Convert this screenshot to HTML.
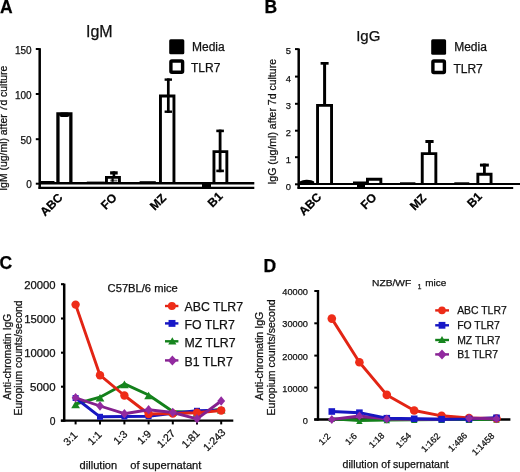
<!DOCTYPE html>
<html><head><meta charset="utf-8"><style>
html,body{margin:0;padding:0;background:#fff;width:520px;height:472px;overflow:hidden}
svg{display:block;will-change:transform}
text{font-family:"Liberation Sans", sans-serif}
</style></head><body>
<svg width="520" height="472" viewBox="0 0 520 472">
<rect x="0" y="0" width="520" height="472" fill="#fff"/>
<text x="0" y="12.7" font-size="17.5" text-anchor="start" fill="#000" stroke="#000" stroke-width="0.25" font-weight="bold" >A</text>
<text x="86.0" y="36.5" font-size="16" text-anchor="start" fill="#111" stroke="#111" stroke-width="0.25" >IgM</text>
<line x1="39.7" y1="48.2" x2="39.7" y2="188.8" stroke="#000" stroke-width="2.5" stroke-linecap="butt"/>
<line x1="35.8" y1="49" x2="39.7" y2="49" stroke="#000" stroke-width="2.0" stroke-linecap="butt"/>
<line x1="35.8" y1="94" x2="39.7" y2="94" stroke="#000" stroke-width="2.0" stroke-linecap="butt"/>
<line x1="35.8" y1="139.2" x2="39.7" y2="139.2" stroke="#000" stroke-width="2.0" stroke-linecap="butt"/>
<line x1="35.8" y1="183.7" x2="39.7" y2="183.7" stroke="#000" stroke-width="2.0" stroke-linecap="butt"/>
<text x="31.7" y="53.7" font-size="10" text-anchor="end" fill="#111" stroke="#111" stroke-width="0.25" >150</text>
<text x="31.7" y="98.7" font-size="10" text-anchor="end" fill="#111" stroke="#111" stroke-width="0.25" >100</text>
<text x="31.7" y="143.9" font-size="10" text-anchor="end" fill="#111" stroke="#111" stroke-width="0.25" >50</text>
<text x="31.7" y="188.4" font-size="10" text-anchor="end" fill="#111" stroke="#111" stroke-width="0.25" >0</text>
<text x="6.9" y="190.8" font-size="10.4" text-anchor="start" fill="#111" stroke="#111" stroke-width="0.25" textLength="125.2" lengthAdjust="spacingAndGlyphs" transform="rotate(-90 6.9 190.8)" >IgM (ug/ml) after 7d culture</text>
<rect x="41" y="181.0" width="13.5" height="2.5" fill="#000" stroke="none" stroke-width="0" rx="0"/>
<rect x="86.8" y="181.6" width="18" height="2" fill="#000" stroke="none" stroke-width="0" rx="0"/>
<rect x="139.6" y="181.2" width="16.2" height="1.8" fill="#000" stroke="none" stroke-width="0" rx="0"/>
<rect x="202" y="182" width="9" height="5" fill="#000" stroke="none" stroke-width="0" rx="0"/>
<path d="M57.95,183.3 L57.95,113.95 L70.85,113.95 L70.85,183.3" fill="#fff" stroke="#000" stroke-width="3.3" stroke-linejoin="miter"/>
<rect x="59.3" y="112.6" width="10.2" height="4.4" fill="#000" stroke="none" stroke-width="0" rx="2.2"/>
<path d="M106.45,183.3 L106.45,177.35 L119.45,177.35 L119.45,183.3" fill="#fff" stroke="#000" stroke-width="2.9" stroke-linejoin="miter"/>
<line x1="113.9" y1="171.3" x2="113.9" y2="178.0" stroke="#000" stroke-width="2.6" stroke-linecap="butt"/>
<line x1="110.1" y1="172.9" x2="117.7" y2="172.9" stroke="#000" stroke-width="3.2" stroke-linecap="butt"/>
<rect x="110.2" y="179.6" width="7.2" height="2.0" fill="#777" stroke="none" stroke-width="0" rx="0"/>
<line x1="112.6" y1="178.2" x2="112.6" y2="181.8" stroke="#000" stroke-width="2.2" stroke-linecap="butt"/>
<path d="M160.45,183.3 L160.45,96.05 L173.95,96.05 L173.95,183.3" fill="#fff" stroke="#000" stroke-width="2.9" stroke-linejoin="miter"/>
<line x1="168.3" y1="78.4" x2="168.3" y2="112.9" stroke="#000" stroke-width="2.7" stroke-linecap="butt"/>
<line x1="164.6" y1="79.6" x2="172.0" y2="79.6" stroke="#000" stroke-width="2.4" stroke-linecap="butt"/>
<line x1="164.6" y1="111.7" x2="172.0" y2="111.7" stroke="#000" stroke-width="2.4" stroke-linecap="butt"/>
<path d="M213.95,183.3 L213.95,151.65 L226.85,151.65 L226.85,183.3" fill="#fff" stroke="#000" stroke-width="2.9" stroke-linejoin="miter"/>
<line x1="220.1" y1="129.6" x2="220.1" y2="172.2" stroke="#000" stroke-width="2.8" stroke-linecap="butt"/>
<line x1="216.3" y1="130.9" x2="223.9" y2="130.9" stroke="#000" stroke-width="2.6" stroke-linecap="butt"/>
<line x1="216.3" y1="170.9" x2="223.9" y2="170.9" stroke="#000" stroke-width="2.6" stroke-linecap="butt"/>
<line x1="39" y1="183.25" x2="254.3" y2="183.25" stroke="#000" stroke-width="2.5" stroke-linecap="butt"/>
<line x1="38.5" y1="187.85" x2="254.3" y2="187.85" stroke="#000" stroke-width="2.3" stroke-linecap="butt"/>
<rect x="169.2" y="39.2" width="15.1" height="15.0" fill="#000" stroke="none" stroke-width="0" rx="1.5"/>
<rect x="170.9" y="61.0" width="11.7" height="11.3" fill="#fff" stroke="#000" stroke-width="3.4" rx="1"/>
<text x="192.0" y="51.1" font-size="12" text-anchor="start" fill="#111" stroke="#111" stroke-width="0.25" >Media</text>
<text x="191.0" y="71.6" font-size="12" text-anchor="start" fill="#111" stroke="#111" stroke-width="0.25" >TLR7</text>
<text x="63.4" y="198.3" font-size="12" text-anchor="end" fill="#000" stroke="#000" stroke-width="0.25" font-weight="bold" transform="rotate(-45 63.4 198.3)" >ABC</text>
<text x="117.5" y="198.4" font-size="12" text-anchor="end" fill="#000" stroke="#000" stroke-width="0.25" font-weight="bold" transform="rotate(-45 117.5 198.4)" >FO</text>
<text x="167.0" y="198.8" font-size="12" text-anchor="end" fill="#000" stroke="#000" stroke-width="0.25" font-weight="bold" transform="rotate(-45 167.0 198.8)" >MZ</text>
<text x="223.4" y="197.1" font-size="12" text-anchor="end" fill="#000" stroke="#000" stroke-width="0.25" font-weight="bold" transform="rotate(-45 223.4 197.1)" >B1</text>
<text x="264.5" y="12.7" font-size="17.5" text-anchor="start" fill="#000" stroke="#000" stroke-width="0.25" font-weight="bold" >B</text>
<text x="356.2" y="41.3" font-size="15" text-anchor="start" fill="#111" stroke="#111" stroke-width="0.25" >IgG</text>
<line x1="298.7" y1="48.5" x2="298.7" y2="188.6" stroke="#000" stroke-width="2.5" stroke-linecap="butt"/>
<line x1="295.0" y1="49.1" x2="298.7" y2="49.1" stroke="#000" stroke-width="2.0" stroke-linecap="butt"/>
<text x="291.0" y="54.4" font-size="9.4" text-anchor="end" fill="#111" stroke="#111" stroke-width="0.25" >5</text>
<line x1="295.0" y1="76.6" x2="298.7" y2="76.6" stroke="#000" stroke-width="2.0" stroke-linecap="butt"/>
<text x="291.0" y="81.9" font-size="9.4" text-anchor="end" fill="#111" stroke="#111" stroke-width="0.25" >4</text>
<line x1="295.0" y1="103.8" x2="298.7" y2="103.8" stroke="#000" stroke-width="2.0" stroke-linecap="butt"/>
<text x="291.0" y="109.1" font-size="9.4" text-anchor="end" fill="#111" stroke="#111" stroke-width="0.25" >3</text>
<line x1="295.0" y1="130.7" x2="298.7" y2="130.7" stroke="#000" stroke-width="2.0" stroke-linecap="butt"/>
<text x="291.0" y="136.0" font-size="9.4" text-anchor="end" fill="#111" stroke="#111" stroke-width="0.25" >2</text>
<line x1="295.0" y1="157.2" x2="298.7" y2="157.2" stroke="#000" stroke-width="2.0" stroke-linecap="butt"/>
<text x="291.0" y="162.5" font-size="9.4" text-anchor="end" fill="#111" stroke="#111" stroke-width="0.25" >1</text>
<line x1="295.0" y1="184.3" x2="298.7" y2="184.3" stroke="#000" stroke-width="2.0" stroke-linecap="butt"/>
<text x="291.0" y="189.6" font-size="9.4" text-anchor="end" fill="#111" stroke="#111" stroke-width="0.25" >0</text>
<text x="275.6" y="184.6" font-size="10.4" text-anchor="start" fill="#111" stroke="#111" stroke-width="0.25" textLength="125.6" lengthAdjust="spacingAndGlyphs" transform="rotate(-90 275.6 184.6)" >IgG (ug/ml) after 7d culture</text>
<path d="M299.6,184 L299.6,181.6 Q303,179.6 307,179.8 Q312,180 314.2,181.6 L314.2,184 Z" fill="#000"/>
<rect x="353" y="181.5" width="13" height="2.5" fill="#000" stroke="none" stroke-width="0" rx="0"/>
<rect x="357" y="183" width="8" height="5" fill="#000" stroke="none" stroke-width="0" rx="0"/>
<rect x="400" y="182.3" width="15.4" height="1.5" fill="#000" stroke="none" stroke-width="0" rx="0"/>
<rect x="454.3" y="182.3" width="15" height="1.5" fill="#000" stroke="none" stroke-width="0" rx="0"/>
<path d="M317.55,184.0 L317.55,105.35 L331.55,105.35 L331.55,184.0" fill="#fff" stroke="#000" stroke-width="2.9" stroke-linejoin="miter"/>
<line x1="324.6" y1="62.0" x2="324.6" y2="105" stroke="#000" stroke-width="3.0" stroke-linecap="butt"/>
<line x1="320.6" y1="63.35" x2="328.6" y2="63.35" stroke="#000" stroke-width="2.7" stroke-linecap="butt"/>
<path d="M367.45,184.0 L367.45,179.25 L380.85,179.25 L380.85,184.0" fill="#fff" stroke="#000" stroke-width="2.9" stroke-linejoin="miter"/>
<path d="M422.25,184.0 L422.25,153.65 L435.85,153.65 L435.85,184.0" fill="#fff" stroke="#000" stroke-width="2.9" stroke-linejoin="miter"/>
<line x1="429.5" y1="140.0" x2="429.5" y2="153" stroke="#000" stroke-width="2.8" stroke-linecap="butt"/>
<line x1="425.4" y1="141.5" x2="433.6" y2="141.5" stroke="#000" stroke-width="3.0" stroke-linecap="butt"/>
<path d="M477.85,184.0 L477.85,174.25 L491.05,174.25 L491.05,184.0" fill="#fff" stroke="#000" stroke-width="2.9" stroke-linejoin="miter"/>
<line x1="484.4" y1="163.6" x2="484.4" y2="173.5" stroke="#000" stroke-width="2.8" stroke-linecap="butt"/>
<line x1="479.95" y1="165.1" x2="488.85" y2="165.1" stroke="#000" stroke-width="3.0" stroke-linecap="butt"/>
<line x1="298" y1="184.0" x2="520" y2="184.0" stroke="#000" stroke-width="2.1" stroke-linecap="butt"/>
<line x1="297.5" y1="188.0" x2="513.2" y2="188.0" stroke="#000" stroke-width="2.1" stroke-linecap="butt"/>
<rect x="431.2" y="39.3" width="14.9" height="15.4" fill="#000" stroke="none" stroke-width="0" rx="1.5"/>
<rect x="432.9" y="61.0" width="11.5" height="11.5" fill="#fff" stroke="#000" stroke-width="3.4" rx="1"/>
<text x="454.2" y="51.4" font-size="12" text-anchor="start" fill="#111" stroke="#111" stroke-width="0.25" >Media</text>
<text x="453.4" y="72.5" font-size="12" text-anchor="start" fill="#111" stroke="#111" stroke-width="0.25" >TLR7</text>
<text x="322.2" y="197.8" font-size="12" text-anchor="end" fill="#000" stroke="#000" stroke-width="0.25" font-weight="bold" transform="rotate(-45 322.2 197.8)" >ABC</text>
<text x="377.3" y="198.1" font-size="12" text-anchor="end" fill="#000" stroke="#000" stroke-width="0.25" font-weight="bold" transform="rotate(-45 377.3 198.1)" >FO</text>
<text x="427.0" y="198.8" font-size="12" text-anchor="end" fill="#000" stroke="#000" stroke-width="0.25" font-weight="bold" transform="rotate(-45 427.0 198.8)" >MZ</text>
<text x="482.8" y="197.3" font-size="12" text-anchor="end" fill="#000" stroke="#000" stroke-width="0.25" font-weight="bold" transform="rotate(-45 482.8 197.3)" >B1</text>
<text x="-0.5" y="269.3" font-size="17.5" text-anchor="start" fill="#000" stroke="#000" stroke-width="0.25" font-weight="bold" >C</text>
<text x="107.6" y="291.8" font-size="10" text-anchor="start" fill="#111" stroke="#111" stroke-width="0.25" textLength="70.2" lengthAdjust="spacingAndGlyphs" >C57BL/6 mice</text>
<line x1="64.2" y1="283.6" x2="64.2" y2="421.8" stroke="#000" stroke-width="2.5" stroke-linecap="butt"/>
<line x1="61.0" y1="284.2" x2="64.2" y2="284.2" stroke="#000" stroke-width="2.1" stroke-linecap="butt"/>
<text x="55.6" y="288.9" font-size="10.3" text-anchor="end" fill="#111" stroke="#111" stroke-width="0.25" textLength="31.4" lengthAdjust="spacingAndGlyphs" >20000</text>
<line x1="61.0" y1="318.5" x2="64.2" y2="318.5" stroke="#000" stroke-width="2.1" stroke-linecap="butt"/>
<text x="55.6" y="323.2" font-size="10.3" text-anchor="end" fill="#111" stroke="#111" stroke-width="0.25" textLength="31.4" lengthAdjust="spacingAndGlyphs" >15000</text>
<line x1="61.0" y1="352.7" x2="64.2" y2="352.7" stroke="#000" stroke-width="2.1" stroke-linecap="butt"/>
<text x="55.6" y="357.4" font-size="10.3" text-anchor="end" fill="#111" stroke="#111" stroke-width="0.25" textLength="31.4" lengthAdjust="spacingAndGlyphs" >10000</text>
<line x1="61.0" y1="386.7" x2="64.2" y2="386.7" stroke="#000" stroke-width="2.1" stroke-linecap="butt"/>
<text x="55.6" y="391.4" font-size="10.3" text-anchor="end" fill="#111" stroke="#111" stroke-width="0.25" textLength="25.5" lengthAdjust="spacingAndGlyphs" >5000</text>
<line x1="61.0" y1="420.7" x2="64.2" y2="420.7" stroke="#000" stroke-width="2.1" stroke-linecap="butt"/>
<text x="55.6" y="425.4" font-size="10.3" text-anchor="end" fill="#111" stroke="#111" stroke-width="0.25" >0</text>
<line x1="60.8" y1="420.7" x2="233.3" y2="420.7" stroke="#000" stroke-width="2.3" stroke-linecap="butt"/>
<line x1="75.6" y1="420.7" x2="75.6" y2="424.4" stroke="#000" stroke-width="2.0" stroke-linecap="butt"/>
<line x1="100.0" y1="420.7" x2="100.0" y2="424.4" stroke="#000" stroke-width="2.0" stroke-linecap="butt"/>
<line x1="124.4" y1="420.7" x2="124.4" y2="424.4" stroke="#000" stroke-width="2.0" stroke-linecap="butt"/>
<line x1="148.6" y1="420.7" x2="148.6" y2="424.4" stroke="#000" stroke-width="2.0" stroke-linecap="butt"/>
<line x1="172.8" y1="420.7" x2="172.8" y2="424.4" stroke="#000" stroke-width="2.0" stroke-linecap="butt"/>
<line x1="197.0" y1="420.7" x2="197.0" y2="424.4" stroke="#000" stroke-width="2.0" stroke-linecap="butt"/>
<line x1="221.2" y1="420.7" x2="221.2" y2="424.4" stroke="#000" stroke-width="2.0" stroke-linecap="butt"/>
<text x="10.8" y="356.75" font-size="10.4" text-anchor="middle" fill="#111" stroke="#111" stroke-width="0.25" textLength="86.1" lengthAdjust="spacingAndGlyphs" transform="rotate(-90 10.8 356.75)" >Anti-chromatin IgG</text>
<text x="22.2" y="358.0" font-size="10.4" text-anchor="middle" fill="#111" stroke="#111" stroke-width="0.25" textLength="115.2" lengthAdjust="spacingAndGlyphs" transform="rotate(-90 22.2 358.0)" >Europium counts/second</text>
<text x="78.2" y="435.8" font-size="10.6" text-anchor="end" fill="#111" stroke="#111" stroke-width="0.25" transform="rotate(-45 78.2 435.8)" >3:1</text>
<text x="102.4" y="435.3" font-size="10.6" text-anchor="end" fill="#111" stroke="#111" stroke-width="0.25" transform="rotate(-45 102.4 435.3)" >1:1</text>
<text x="128.2" y="434.8" font-size="10.6" text-anchor="end" fill="#111" stroke="#111" stroke-width="0.25" transform="rotate(-45 128.2 434.8)" >1:3</text>
<text x="152.0" y="434.7" font-size="10.6" text-anchor="end" fill="#111" stroke="#111" stroke-width="0.25" transform="rotate(-45 152.0 434.7)" >1:9</text>
<text x="175.9" y="434.0" font-size="10.6" text-anchor="end" fill="#111" stroke="#111" stroke-width="0.25" transform="rotate(-45 175.9 434.0)" >1:27</text>
<text x="200.5" y="434.1" font-size="10.6" text-anchor="end" fill="#111" stroke="#111" stroke-width="0.25" transform="rotate(-45 200.5 434.1)" >1:81</text>
<text x="226.3" y="433.1" font-size="10.6" text-anchor="end" fill="#111" stroke="#111" stroke-width="0.25" transform="rotate(-45 226.3 433.1)" >1:243</text>
<text x="79.6" y="469.0" font-size="11" text-anchor="start" fill="#111" stroke="#111" stroke-width="0.25" textLength="37.6" lengthAdjust="spacingAndGlyphs" >dillution</text>
<text x="130.2" y="469.2" font-size="11" text-anchor="start" fill="#111" stroke="#111" stroke-width="0.25" textLength="71.2" lengthAdjust="spacingAndGlyphs" >of supernatant</text>
<polyline points="75.6,404.0 100.0,397.2 124.4,383.9 148.6,395.0 172.8,411.5 197.0,412.5 221.2,409.3" fill="none" stroke="#13801b" stroke-width="2.9" stroke-linejoin="round"/>
<polygon points="71.23,408.3 79.97,408.3 75.6,400.7" fill="#17861f"/>
<polygon points="95.63,401.5 104.37,401.5 100.0,393.9" fill="#17861f"/>
<polygon points="120.03,388.2 128.77,388.2 124.4,380.6" fill="#17861f"/>
<polygon points="144.23,399.3 152.97,399.3 148.6,391.7" fill="#17861f"/>
<polygon points="168.43,415.8 177.17,415.8 172.8,408.2" fill="#17861f"/>
<polygon points="192.63,416.8 201.37,416.8 197.0,409.2" fill="#17861f"/>
<polygon points="216.83,413.6 225.57,413.6 221.2,406.0" fill="#17861f"/>
<polyline points="75.6,398.0 100.0,416.8 124.4,416.5 148.6,416.2 172.8,413.3 197.0,410.8 221.2,410.2" fill="none" stroke="#1616c0" stroke-width="2.9" stroke-linejoin="round"/>
<rect x="72.6" y="395.0" width="6.0" height="6.0" fill="#1818c8"/>
<rect x="97.0" y="413.8" width="6.0" height="6.0" fill="#1818c8"/>
<rect x="121.4" y="413.5" width="6.0" height="6.0" fill="#1818c8"/>
<rect x="145.6" y="413.2" width="6.0" height="6.0" fill="#1818c8"/>
<rect x="169.8" y="410.3" width="6.0" height="6.0" fill="#1818c8"/>
<rect x="194.0" y="407.8" width="6.0" height="6.0" fill="#1818c8"/>
<rect x="218.2" y="407.2" width="6.0" height="6.0" fill="#1818c8"/>
<polyline points="75.6,304.6 100.0,375.2 124.4,395.5 148.6,414.0 172.8,413.5 197.0,412.7 221.2,410.5" fill="none" stroke="#e22414" stroke-width="2.9" stroke-linejoin="round"/>
<circle cx="75.6" cy="304.6" r="4.2" fill="#ee2c18"/>
<circle cx="100.0" cy="375.2" r="4.2" fill="#ee2c18"/>
<circle cx="124.4" cy="395.5" r="4.2" fill="#ee2c18"/>
<circle cx="148.6" cy="414.0" r="4.2" fill="#ee2c18"/>
<circle cx="172.8" cy="413.5" r="4.2" fill="#ee2c18"/>
<circle cx="197.0" cy="412.7" r="4.2" fill="#ee2c18"/>
<circle cx="221.2" cy="410.5" r="4.2" fill="#ee2c18"/>
<polyline points="75.6,397.8 100.0,406.0 124.4,413.7 148.6,409.8 172.8,412.5 197.0,418.8 221.2,401.0" fill="none" stroke="#84208e" stroke-width="2.9" stroke-linejoin="round"/>
<polygon points="75.6,393.1 79.51,397.8 75.6,402.5 71.69,397.8" fill="#922aa0"/>
<polygon points="100.0,401.3 103.91,406.0 100.0,410.7 96.09,406.0" fill="#922aa0"/>
<polygon points="124.4,409 128.31,413.7 124.4,418.4 120.49,413.7" fill="#922aa0"/>
<polygon points="148.6,405.1 152.51,409.8 148.6,414.5 144.69,409.8" fill="#922aa0"/>
<polygon points="172.8,407.8 176.71,412.5 172.8,417.2 168.89,412.5" fill="#922aa0"/>
<polygon points="197.0,414.1 200.91,418.8 197.0,423.5 193.09,418.8" fill="#922aa0"/>
<polygon points="221.2,396.3 225.11,401.0 221.2,405.7 217.29,401.0" fill="#922aa0"/>
<line x1="165.0" y1="306.0" x2="178.4" y2="306.0" stroke="#e22414" stroke-width="2.4" stroke-linecap="butt"/>
<circle cx="171.9" cy="306.0" r="4.0" fill="#ee2c18"/>
<text x="184.5" y="311.2" font-size="12.3" text-anchor="start" fill="#111" stroke="#111" stroke-width="0.25" >ABC TLR7</text>
<line x1="165.0" y1="323.4" x2="178.4" y2="323.4" stroke="#1616c0" stroke-width="2.4" stroke-linecap="butt"/>
<rect x="168.55" y="319.95" width="6.9" height="6.9" fill="#1818c8"/>
<text x="184.5" y="328.6" font-size="12.3" text-anchor="start" fill="#111" stroke="#111" stroke-width="0.25" >FO TLR7</text>
<line x1="165.0" y1="341.3" x2="178.4" y2="341.3" stroke="#13801b" stroke-width="2.4" stroke-linecap="butt"/>
<polygon points="168.2,344.5 176.4,344.5 172.3,337.3" fill="#17861f"/>
<text x="184.5" y="346.5" font-size="12.3" text-anchor="start" fill="#111" stroke="#111" stroke-width="0.25" >MZ TLR7</text>
<line x1="165.0" y1="360.4" x2="178.4" y2="360.4" stroke="#84208e" stroke-width="2.4" stroke-linecap="butt"/>
<polygon points="172.4,355.4 177.0,360.4 172.4,365.4 167.8,360.4" fill="#922aa0"/>
<text x="184.5" y="365.6" font-size="12.3" text-anchor="start" fill="#111" stroke="#111" stroke-width="0.25" >B1 TLR7</text>
<text x="263.5" y="272.1" font-size="17.5" text-anchor="start" fill="#000" stroke="#000" stroke-width="0.25" font-weight="bold" >D</text>
<text x="372.0" y="286.4" font-size="9.7" text-anchor="start" fill="#111" stroke="#111" stroke-width="0.25" textLength="39.2" lengthAdjust="spacingAndGlyphs" >NZB/WF</text>
<text x="417.8" y="289.2" font-size="6.5" text-anchor="start" fill="#111" stroke="#111" stroke-width="0.25" >1</text>
<text x="425.3" y="286.4" font-size="9.7" text-anchor="start" fill="#111" stroke="#111" stroke-width="0.25" textLength="21.0" lengthAdjust="spacingAndGlyphs" >mice</text>
<line x1="318.0" y1="290.0" x2="318.0" y2="420.6" stroke="#000" stroke-width="2.4" stroke-linecap="butt"/>
<line x1="314.3" y1="291.0" x2="318.0" y2="291.0" stroke="#000" stroke-width="2.0" stroke-linecap="butt"/>
<text x="307.9" y="295.0" font-size="9.2" text-anchor="end" fill="#111" stroke="#111" stroke-width="0.25" textLength="25.6" lengthAdjust="spacingAndGlyphs" >40000</text>
<line x1="314.3" y1="323.3" x2="318.0" y2="323.3" stroke="#000" stroke-width="2.0" stroke-linecap="butt"/>
<text x="307.9" y="327.3" font-size="9.2" text-anchor="end" fill="#111" stroke="#111" stroke-width="0.25" textLength="25.6" lengthAdjust="spacingAndGlyphs" >30000</text>
<line x1="314.3" y1="355.6" x2="318.0" y2="355.6" stroke="#000" stroke-width="2.0" stroke-linecap="butt"/>
<text x="307.9" y="359.6" font-size="9.2" text-anchor="end" fill="#111" stroke="#111" stroke-width="0.25" textLength="25.6" lengthAdjust="spacingAndGlyphs" >20000</text>
<line x1="314.3" y1="387.6" x2="318.0" y2="387.6" stroke="#000" stroke-width="2.0" stroke-linecap="butt"/>
<text x="307.9" y="391.6" font-size="9.2" text-anchor="end" fill="#111" stroke="#111" stroke-width="0.25" textLength="25.6" lengthAdjust="spacingAndGlyphs" >10000</text>
<line x1="314.3" y1="419.5" x2="318.0" y2="419.5" stroke="#000" stroke-width="2.0" stroke-linecap="butt"/>
<text x="307.9" y="423.5" font-size="9.2" text-anchor="end" fill="#111" stroke="#111" stroke-width="0.25" >0</text>
<line x1="314.2" y1="419.45" x2="510.4" y2="419.45" stroke="#000" stroke-width="2.5" stroke-linecap="butt"/>
<text x="263.0" y="355.95" font-size="10.5" text-anchor="middle" fill="#111" stroke="#111" stroke-width="0.25" textLength="88.5" lengthAdjust="spacingAndGlyphs" transform="rotate(-90 263.0 355.95)" >Anti-chromatin IgG</text>
<text x="275.3" y="357.4" font-size="10.5" text-anchor="middle" fill="#111" stroke="#111" stroke-width="0.25" textLength="116.2" lengthAdjust="spacingAndGlyphs" transform="rotate(-90 275.3 357.4)" >Europium counts/second</text>
<text x="331.1" y="437.0" font-size="9" text-anchor="end" fill="#111" stroke="#111" stroke-width="0.25" transform="rotate(-45 331.1 437.0)" >1:2</text>
<text x="357.55" y="436.75" font-size="9" text-anchor="end" fill="#111" stroke="#111" stroke-width="0.25" transform="rotate(-45 357.55 436.75)" >1:6</text>
<text x="384.95" y="436.2" font-size="9" text-anchor="end" fill="#111" stroke="#111" stroke-width="0.25" transform="rotate(-45 384.95 436.2)" >1:18</text>
<text x="411.9" y="436.2" font-size="9" text-anchor="end" fill="#111" stroke="#111" stroke-width="0.25" transform="rotate(-45 411.9 436.2)" >1:54</text>
<text x="440.8" y="436.7" font-size="9" text-anchor="end" fill="#111" stroke="#111" stroke-width="0.25" transform="rotate(-45 440.8 436.7)" >1:162</text>
<text x="467.8" y="436.25" font-size="9" text-anchor="end" fill="#111" stroke="#111" stroke-width="0.25" transform="rotate(-45 467.8 436.25)" >1:486</text>
<text x="495.0" y="436.55" font-size="9" text-anchor="end" fill="#111" stroke="#111" stroke-width="0.25" transform="rotate(-45 495.0 436.55)" >1:1458</text>
<text x="342.6" y="468.3" font-size="10.5" text-anchor="start" fill="#111" stroke="#111" stroke-width="0.25" textLength="106.2" lengthAdjust="spacingAndGlyphs" >dillution of supernatant</text>
<polyline points="331.8,418.8 359.4,420.6 386.8,420.0 414.2,419.8 441.6,419.6 469.0,419.6 496.5,419.5" fill="none" stroke="#13801b" stroke-width="2.9" stroke-linejoin="round"/>
<polygon points="328.58,422.1 335.02,422.1 331.8,416.5" fill="#17861f"/>
<polygon points="356.18,423.9 362.62,423.9 359.4,418.3" fill="#17861f"/>
<polygon points="383.58,423.3 390.02,423.3 386.8,417.7" fill="#17861f"/>
<polygon points="410.98,423.1 417.42,423.1 414.2,417.5" fill="#17861f"/>
<polygon points="438.38,422.9 444.82,422.9 441.6,417.3" fill="#17861f"/>
<polygon points="465.78,422.9 472.22,422.9 469.0,417.3" fill="#17861f"/>
<polygon points="493.28,422.8 499.72,422.8 496.5,417.2" fill="#17861f"/>
<polyline points="331.8,419.5 359.4,416.0 386.8,419.0 414.2,419.3 441.6,419.3 469.0,418.2 496.5,418.8" fill="none" stroke="#84208e" stroke-width="2.9" stroke-linejoin="round"/>
<polyline points="331.8,318.6 359.4,362.2 386.8,394.9 414.2,410.5 441.6,415.8 469.0,418.0 496.5,418.5" fill="none" stroke="#e22414" stroke-width="2.9" stroke-linejoin="round"/>
<circle cx="331.8" cy="318.6" r="4.3" fill="#ee2c18"/>
<circle cx="359.4" cy="362.2" r="4.3" fill="#ee2c18"/>
<circle cx="386.8" cy="394.9" r="4.3" fill="#ee2c18"/>
<circle cx="414.2" cy="410.5" r="4.3" fill="#ee2c18"/>
<circle cx="441.6" cy="415.8" r="4.3" fill="#ee2c18"/>
<circle cx="469.0" cy="418.0" r="4.3" fill="#ee2c18"/>
<circle cx="496.5" cy="418.5" r="4.3" fill="#ee2c18"/>
<polyline points="331.8,411.5 359.4,412.7 386.8,418.2 414.2,418.8 441.6,419.2 469.0,419.0 496.5,417.8" fill="none" stroke="#1616c0" stroke-width="2.9" stroke-linejoin="round"/>
<rect x="328.5" y="408.2" width="6.6" height="6.6" fill="#1818c8"/>
<rect x="356.1" y="409.4" width="6.6" height="6.6" fill="#1818c8"/>
<rect x="383.5" y="414.9" width="6.6" height="6.6" fill="#1818c8"/>
<rect x="410.9" y="415.5" width="6.6" height="6.6" fill="#1818c8"/>
<rect x="438.3" y="415.9" width="6.6" height="6.6" fill="#1818c8"/>
<rect x="465.7" y="415.7" width="6.6" height="6.6" fill="#1818c8"/>
<rect x="493.2" y="414.5" width="6.6" height="6.6" fill="#1818c8"/>
<polyline points="469.0,418.2 496.5,418.8" fill="none" stroke="#84208e" stroke-width="2.9" stroke-linejoin="round"/>
<polygon points="331.8,415.02 335.52,419.5 331.8,423.98 328.08,419.5" fill="#922aa0"/>
<polygon points="359.4,411.52 363.12,416.0 359.4,420.48 355.68,416.0" fill="#922aa0"/>
<polygon points="386.8,414.52 390.52,419.0 386.8,423.48 383.08,419.0" fill="#922aa0"/>
<polygon points="469.0,413.72 472.72,418.2 469.0,422.68 465.28,418.2" fill="#922aa0"/>
<polygon points="496.5,414.32 500.22,418.8 496.5,423.28 492.78,418.8" fill="#922aa0"/>
<line x1="435.2" y1="310.4" x2="449.0" y2="310.4" stroke="#e22414" stroke-width="2.4" stroke-linecap="butt"/>
<circle cx="442" cy="310.4" r="3.8" fill="#ee2c18"/>
<text x="457.2" y="314.4" font-size="10.4" text-anchor="start" fill="#111" stroke="#111" stroke-width="0.25" >ABC TLR7</text>
<line x1="435.2" y1="325.3" x2="449.0" y2="325.3" stroke="#1616c0" stroke-width="2.4" stroke-linecap="butt"/>
<rect x="438.6" y="321.9" width="6.8" height="6.8" fill="#1818c8"/>
<text x="457.2" y="329.3" font-size="10.4" text-anchor="start" fill="#111" stroke="#111" stroke-width="0.25" >FO TLR7</text>
<line x1="435.2" y1="340.0" x2="449.0" y2="340.0" stroke="#13801b" stroke-width="2.4" stroke-linecap="butt"/>
<polygon points="438.0,342.9 446.0,342.9 442,335.9" fill="#17861f"/>
<text x="457.2" y="344.0" font-size="10.4" text-anchor="start" fill="#111" stroke="#111" stroke-width="0.25" >MZ TLR7</text>
<line x1="435.2" y1="354.4" x2="449.0" y2="354.4" stroke="#84208e" stroke-width="2.4" stroke-linecap="butt"/>
<polygon points="442,349.4 446.6,354.4 442,359.4 437.4,354.4" fill="#922aa0"/>
<text x="457.2" y="358.4" font-size="10.4" text-anchor="start" fill="#111" stroke="#111" stroke-width="0.25" >B1 TLR7</text>
</svg>
</body></html>
